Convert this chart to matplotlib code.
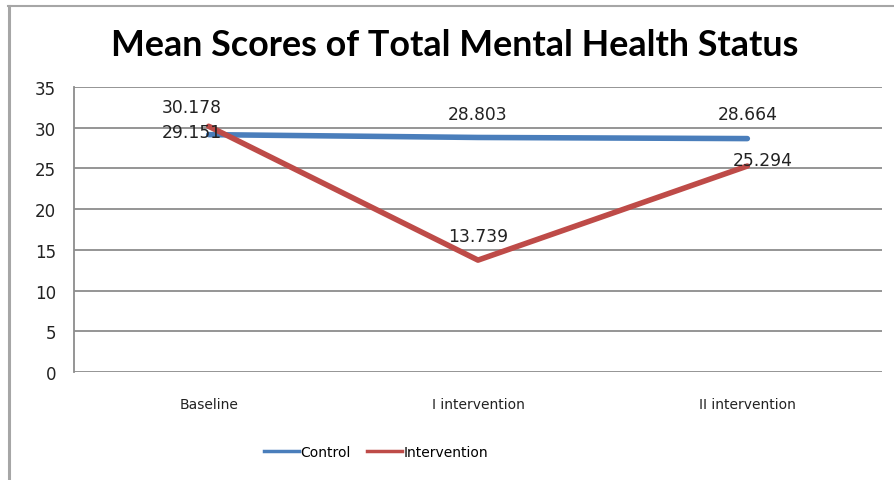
import matplotlib
matplotlib.use("Agg")
import matplotlib.pyplot as plt
from matplotlib.lines import Line2D

categories = ["Baseline", "I intervention", "II intervention"]
control = [29.151, 28.803, 28.664]
intervention = [30.178, 13.739, 25.294]
yticks = [0, 5, 10, 15, 20, 25, 30, 35]
title = "Mean Scores of Total Mental Health Status"

W, H = 894, 481
fig = plt.figure(figsize=(W / 100, H / 100), dpi=100)
fig.patch.set_facecolor("white")

# outer border (top and left visible)
fig.add_artist(Line2D([8 / W, 1], [1 - 7 / H, 1 - 7 / H], color="#a6a6a6", lw=1.5, transform=fig.transFigure))
fig.add_artist(Line2D([9 / W, 9 / W], [0, 1 - 7 / H], color="#a6a6a6", lw=2.2, transform=fig.transFigure))

ax = fig.add_axes([74 / W, 1 - 373 / H, (882 - 74) / W, (373 - 88) / H])
x = list(range(len(categories)))
blue = "#4a7ebb"
red = "#be4b48"
ax.plot(x, control, color=blue, lw=4, solid_capstyle="round", label="Control", zorder=3)
ax.plot(x, intervention, color=red, lw=4, solid_capstyle="round", label="Intervention", zorder=4)

ax.set_xlim(-0.5, 2.5)
ax.set_ylim(0, 35)
ax.set_yticks(yticks)
ax.set_yticklabels([str(v) for v in yticks], fontsize=12, color="#222222")
ax.set_xticks(x)
ax.set_xticklabels(categories, fontsize=10, color="#222222")
ax.tick_params(axis="both", length=0)
ax.tick_params(axis="y", pad=13)
ax.tick_params(axis="x", pad=18)
ax.yaxis.grid(True, color="#8c8c8c", lw=1.3)
ax.set_axisbelow(True)
for s in ["top", "right", "bottom"]:
    ax.spines[s].set_visible(False)
ax.spines["left"].set_color("#8c8c8c")
ax.spines["left"].set_linewidth(1.3)

# data labels (offsets in pixels)
c_off = [(-17, 3), (0, 23), (0, 25)]
i_off = [(-17, 19), (0, 24), (15, 6)]
for xi, v, o in zip(x, control, c_off):
    ax.annotate(f"{v:.3f}", (xi, v), xytext=o, textcoords="offset pixels",
                ha="center", va="center", fontsize=12.3, color="#222222", zorder=5)
for xi, v, o in zip(x, intervention, i_off):
    ax.annotate(f"{v:.3f}", (xi, v), xytext=o, textcoords="offset pixels",
                ha="center", va="center", fontsize=12.3, color="#222222", zorder=5)

fig.text(455 / W, 1 - 46 / H, title, ha="center", va="center",
         fontsize=25.8, fontweight="bold", family="Lato", color="black")

handles = [Line2D([], [], color=blue, lw=2.5), Line2D([], [], color=red, lw=2.5)]
fig.legend(handles, ["Control", "Intervention"], loc="center",
           bbox_to_anchor=(376 / W, 1 - 453 / H), ncol=2, frameon=False,
           fontsize=10, handlelength=2.5, handletextpad=0.1, columnspacing=1.2)

fig.savefig("out.png", dpi=100, facecolor="white")
